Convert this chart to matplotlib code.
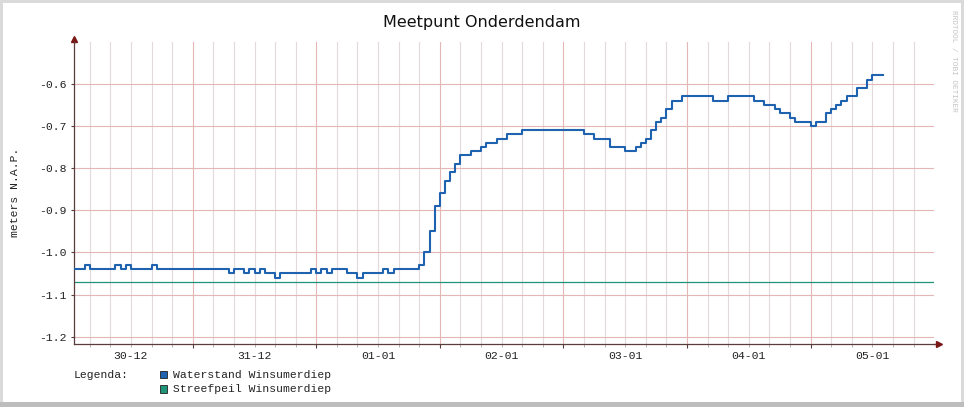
import datetime as dt
import matplotlib
matplotlib.use('Agg')
import matplotlib.pyplot as plt
import matplotlib.dates as mdates
from matplotlib.patches import Rectangle

# waterstand: hour (after 30-12 00:00) at which the level steps to a new value
step_hours = [1, 3, 4, 9, 10, 11, 12, 16, 17, 31, 32, 34, 35, 36, 37, 38, 40, 41,
              47, 48, 49, 50, 51, 54, 56, 57, 61, 62, 63, 68, 69, 70, 71, 72, 73, 74,
              75, 76, 78, 80, 81, 83, 85, 88, 100, 102, 105, 108, 110, 111, 112, 113,
              114, 115, 116, 117, 119, 125, 128, 133, 135, 137, 138, 140, 141, 144,
              145, 147, 148, 149, 150, 151, 153, 155, 156]
step_levels = [-1.04, -1.03, -1.04, -1.03, -1.04, -1.03, -1.04, -1.03, -1.04, -1.05,
               -1.04, -1.05, -1.04, -1.05, -1.04, -1.05, -1.06, -1.05, -1.04, -1.05,
               -1.04, -1.05, -1.04, -1.05, -1.06, -1.05, -1.04, -1.05, -1.04, -1.03,
               -1.00, -0.95, -0.89, -0.86, -0.83, -0.81, -0.79, -0.77, -0.76, -0.75,
               -0.74, -0.73, -0.72, -0.71, -0.72, -0.73, -0.75, -0.76, -0.75, -0.74,
               -0.73, -0.71, -0.69, -0.68, -0.66, -0.64, -0.63, -0.64, -0.63, -0.64,
               -0.65, -0.66, -0.67, -0.68, -0.69, -0.70, -0.69, -0.67, -0.66, -0.65,
               -0.64, -0.63, -0.61, -0.59, -0.58]
last_hour = 158

streefpeil = -1.07
streef_hours = [1, 168]

y_ticks = [-1.2, -1.1, -1.0, -0.9, -0.8, -0.7, -0.6]
n_days = 7

W, H = 964, 407
base = dt.datetime(2012, 12, 30)
blue = '#1f63b0'
green = '#1f9478'
axis_col = '#5a3c3c'
arrow_col = '#7a1818'
mono = 'Liberation Mono'

def hrs(h):
    return base + dt.timedelta(hours=h)

fig = plt.figure(figsize=(W / 100, H / 100), dpi=100)
fig.patch.set_facecolor('#dadada')
fig.add_artist(Rectangle((0, 0), 1, 5.5 / H, transform=fig.transFigure,
                         facecolor='#bdbdbd', edgecolor='none', zorder=-10))
fig.add_artist(Rectangle((3 / W, 5.5 / H), 958 / W, (H - 3 - 5.5) / H,
                         transform=fig.transFigure, facecolor='white',
                         edgecolor='none', zorder=-9))

left, right, top, bottom = 74.3, 933.9, 41.7, 343.7
ax = fig.add_axes([left / W, (H - bottom) / H, (right - left) / W, (bottom - top) / H])
ax.set_facecolor('none')

x = [hrs(h) for h in step_hours] + [hrs(last_hour)]
y = step_levels + [step_levels[-1]]
ax.step(x, y, where='post', color=blue, lw=1.5, zorder=3)
ax.plot([hrs(h) for h in streef_hours], [streefpeil] * 2, color=green, lw=0.9, zorder=2)

ax.set_xlim(hrs(1), hrs(167.95))
ax.set_ylim(-1.2166, -0.5)

ax.xaxis.set_major_locator(mdates.HourLocator(byhour=[0]))
ax.xaxis.set_minor_locator(mdates.HourLocator(byhour=range(0, 24, 4)))
ax.tick_params(axis='x', which='major', length=3, color=axis_col, labelbottom=False)
ax.tick_params(axis='x', which='minor', length=2, color='#b0a0a0')
ax.set_yticks(y_ticks)
ax.set_yticklabels([f'{v:.1f}' for v in y_ticks])
ax.tick_params(axis='y', length=2.2, color=axis_col, pad=3.5, labelsize=8.2,
               labelcolor='#222222')
for lab in ax.get_yticklabels():
    lab.set_fontfamily(mono)

ax.grid(which='major', axis='both', color='#e4b6b6', lw=0.8)
ax.grid(which='minor', axis='x', color='#e4dadd', lw=0.8)
ax.set_axisbelow(True)

for s in ['top', 'right']:
    ax.spines[s].set_visible(False)
for s in ['left', 'bottom']:
    ax.spines[s].set_color(axis_col)
    ax.spines[s].set_linewidth(0.9)

# arrows at axis ends
ax.plot([0, 0], [1, 1.01], transform=ax.transAxes, color=axis_col, lw=0.9, clip_on=False)
ax.plot([1, 1.004], [0, 0], transform=ax.transAxes, color=axis_col, lw=0.9, clip_on=False)
ax.plot([0], [1.01], marker='^', ms=4, color=arrow_col, transform=ax.transAxes, clip_on=False)
ax.plot([1.0065], [0], marker='>', ms=4, color=arrow_col, transform=ax.transAxes, clip_on=False)

# day labels centred on each day
for d in range(n_days):
    noon = hrs(24 * d + 12)
    ax.text(noon, -12 / (bottom - top), noon.strftime('%d-%m'), transform=ax.get_xaxis_transform(),
            ha='center', va='center', fontsize=8.2, family=mono, color='#222222')

fig.text(0.5, 1 - 22 / H, 'Meetpunt Onderdendam', ha='center', va='center',
         fontsize=11.5, family='DejaVu Sans', color='#111111')
fig.text(15 / W, 1 - 192.7 / H, 'meters N.A.P.', rotation=90, ha='center', va='center',
         fontsize=8.2, family=mono, color='#222222')
fig.text(953 / W, 1 - 10 / H, 'RRDTOOL / TOBI OETIKER', rotation=270, ha='center', va='top',
         fontsize=5.6, family=mono, color='#c4c4c4')

# legend
fig.text(74 / W, 1 - 374.5 / H, 'Legenda:', ha='left', va='center', fontsize=8.2,
         family=mono, color='#222222')
legend_items = [('Waterstand Winsumerdiep', blue), ('Streefpeil Winsumerdiep', green)]
for i, (name, col) in enumerate(legend_items):
    yc = 374.5 + 14.5 * i
    fig.add_artist(Rectangle((159.5 / W, 1 - (yc + 3.8) / H), 7.5 / W, 7.6 / H,
                             transform=fig.transFigure, facecolor=col,
                             edgecolor='#202020', lw=0.6))
    fig.text(173 / W, 1 - yc / H, name, ha='left', va='center', fontsize=8.2,
             family=mono, color='#222222')

fig.savefig('out.png', dpi=100)
